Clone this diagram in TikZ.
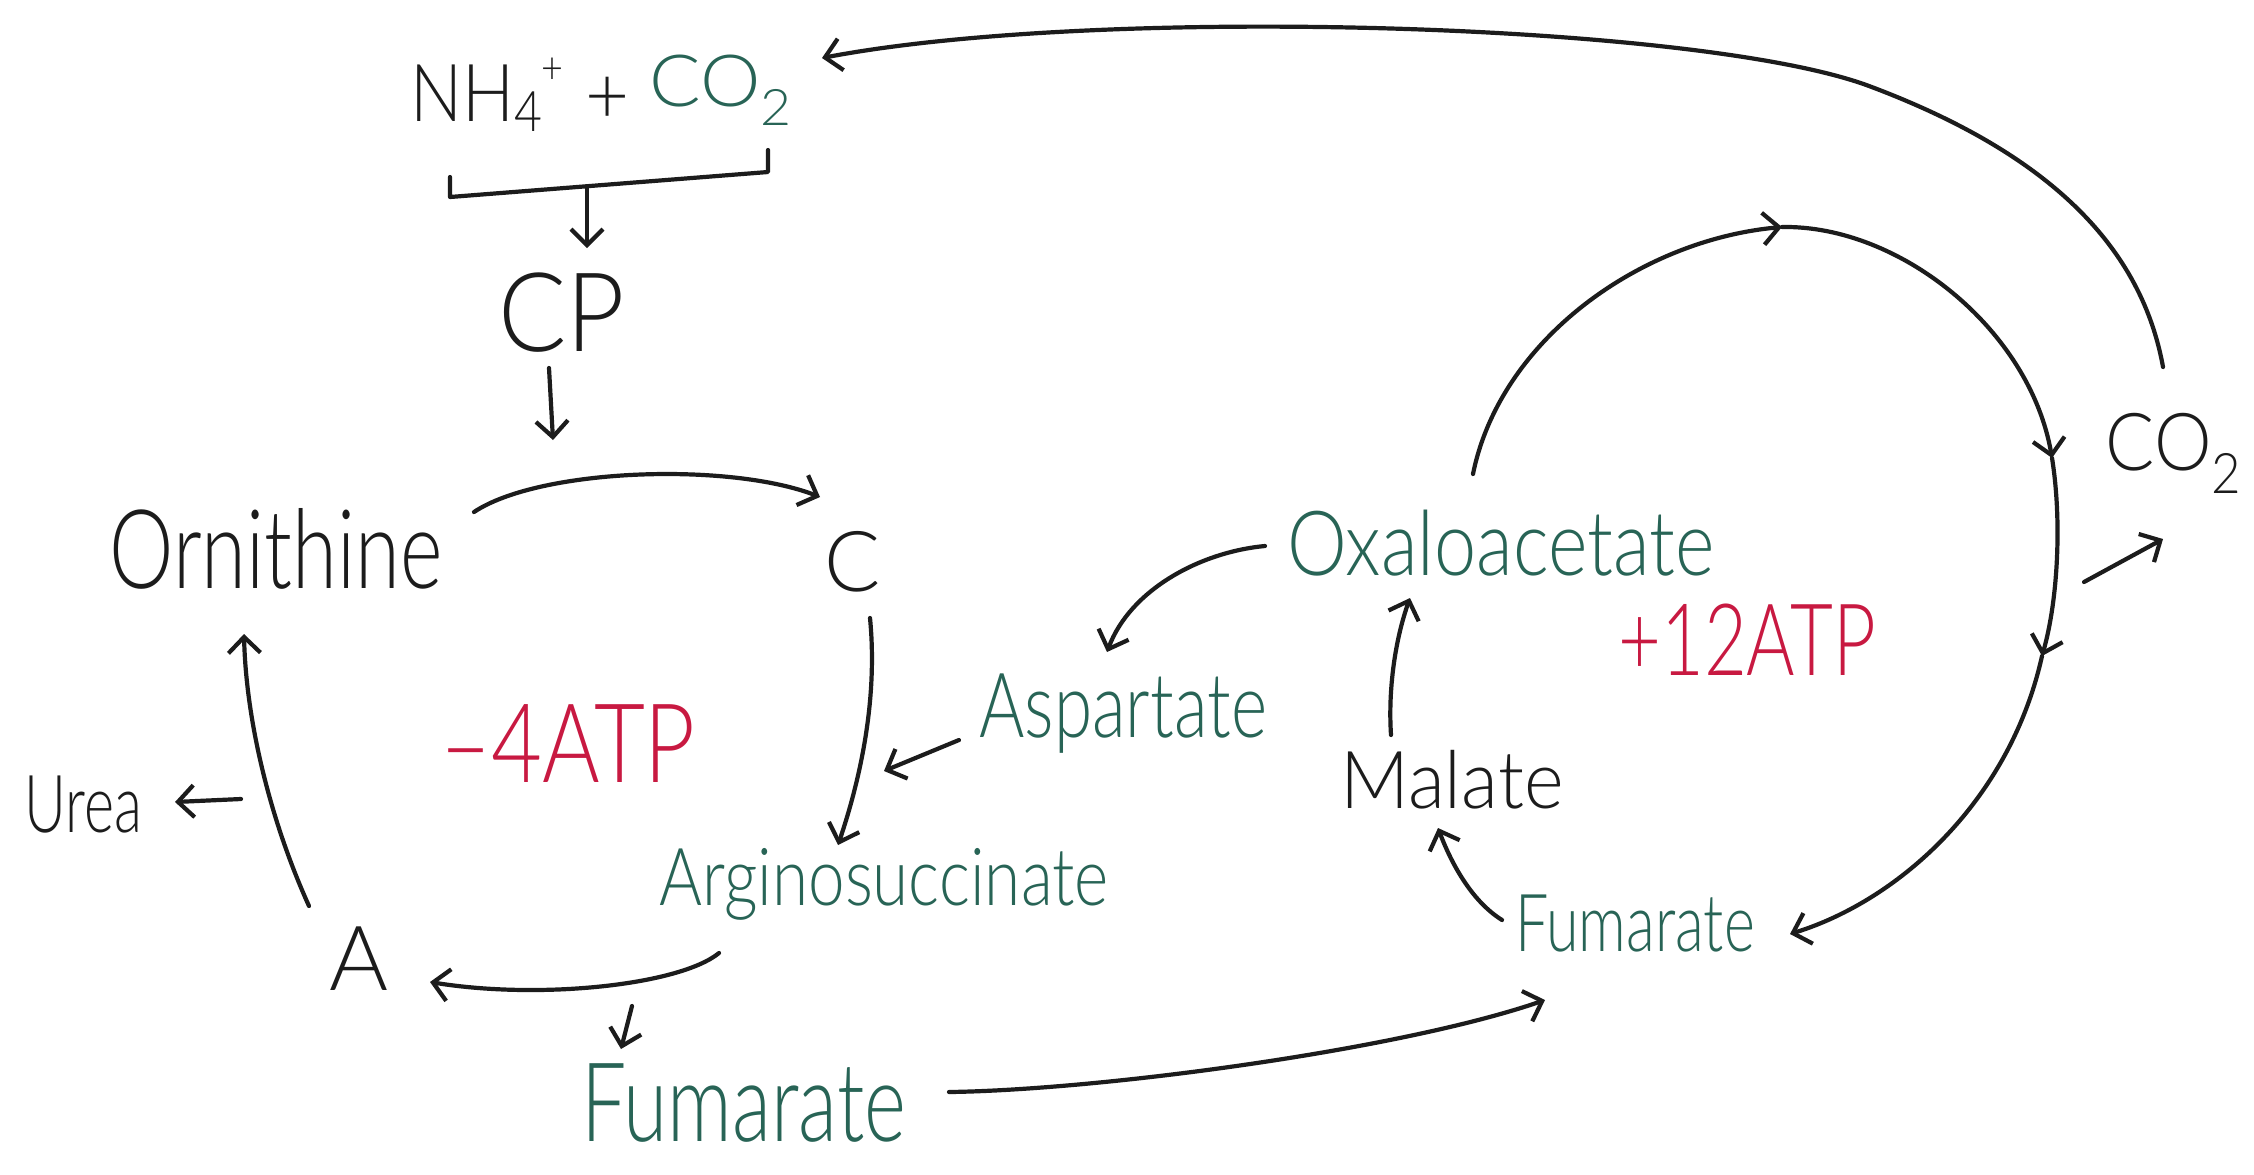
\documentclass[tikz,border=0pt]{standalone}
\usepackage{fontspec}
\usepackage{graphicx}
\setmainfont{Lato Light}
\usetikzlibrary{arrows.meta}
\definecolor{ink}{RGB}{28,28,28}
\definecolor{tealink}{RGB}{40,100,86}
\definecolor{redink}{RGB}{200,25,65}
% handwritten-looking label: [horizontal squeeze]{size}{text}
\newcommand\hw[3][0.75]{\scalebox{#1}[1]{\fontsize{#2}{#2}\selectfont #3}}
% ammonium: small 4 lowered, charge raised after it
\newcommand\ammonium{NH\raisebox{-5pt}{\fontsize{28}{28}\selectfont 4}\raisebox{19pt}{\fontsize{22}{22}\selectfont +}}

\begin{document}
\begin{tikzpicture}[x=0.5pt,y=0.5pt,
  lbl/.style={inner sep=0pt, text=ink},
  grn/.style={lbl, text=tealink},
  rd/.style={lbl, text=redink},
  conn/.style={draw=ink, line width=2.1pt, line cap=round, line join=round},
  arr/.style={conn, -{Straight Barb[length=8pt,width=16pt]}},
]
\useasboundingbox (0,0) rectangle (2254,-1174);
\fill[white] (0,0) rectangle (2254,-1174);

% ---- urea cycle side ----
\node[lbl] (nh4)  at (487,-95)  {\hw[0.86]{40}{\ammonium}};
\node[lbl] (plus) at (608,-100) {\hw[0.95]{40}{+}};
\node[grn] (co2a) at (721,-90)  {\hw[1.06]{36}{CO\textsubscript{2}}};
\node[lbl] (cp)   at (562,-313) {\hw[0.92]{55}{CP}};
\node[lbl] (orn)  at (276,-549) {\hw[0.74]{55}{Ornithine}};
\node[lbl] (cit)  at (853,-562) {\hw[0.99]{42}{C}};
\node[grn] (arg)  at (884,-884) {\hw[0.82]{40}{Arginosuccinate}};
\node[grn] (asp)  at (1123,-714){\hw[0.77]{45}{Aspartate}};
\node[rd]  (atpm) at (568,-744) {\hw[0.80]{55}{–4ATP}};
\node[lbl] (urea) at (83,-805)  {\hw[0.72]{40}{Urea}};
\node[lbl] (argn) at (359,-959) {\hw[1.0]{45}{A}};
\node[grn] (fum1) at (744,-1103){\hw[0.73]{55}{Fumarate}};

% ---- citric acid cycle side ----
\node[grn] (oaa)  at (1501,-543){\hw[0.84]{45}{Oxaloacetate}};
\node[lbl] (mal)  at (1452,-780){\hw[0.95]{40}{Malate}};
\node[grn] (fum2) at (1635,-924){\hw[0.74]{40}{Fumarate}};
\node[rd]  (atpp) at (1747,-640){\hw[0.74]{50}{+12ATP}};
\node[lbl] (co2)  at (2174,-453){\hw[0.91]{40}{CO\textsubscript{2}}};

% bracket joining the two reactants
\draw[conn] (450,-177) -- (450,-197) -- (768,-172) -- (768,-150);
\coordinate (brk) at (587,-187);
\draw[arr] (brk) -- ([shift={(25,65)}]cp.center);
\coordinate (cpdown) at (553,-440);
\draw[arr] ([shift={(-13,-55)}]cp.center) -- (cpdown);

% urea cycle arrows
\draw[arr] ([shift={(198,37)}]orn.center) .. controls (540,-468) and (730,-462) .. ([shift={(-33,65)}]cit.center);
\draw[arr] ([shift={(17,-56)}]cit.center) .. controls (878,-700) and (860,-780) .. ([shift={(-46,39)}]arg.center);
\draw[arr] ([shift={(-164,-26)}]asp.center) -- ([shift={(-239,-57)}]asp.center);
\draw[arr] ([shift={(-165,-69)}]arg.center) .. controls (680,-985) and (540,-1000) .. ([shift={(71,-23)}]argn.center);
\draw[arr] ([shift={(-252,-122)}]arg.center) -- ([shift={(-123,54)}]fum1.center);
\draw[arr] ([shift={(-50,53)}]argn.center) .. controls (270,-820) and (246,-720) .. ([shift={(-32,-85)}]orn.center);
\draw[arr] ([shift={(158,6)}]urea.center) -- ([shift={(92,3)}]urea.center);

% link between the cycles
\draw[arr] ([shift={(205,11)}]fum1.center) .. controls (1100,-1090) and (1400,-1050) .. ([shift={(-90,-76)}]fum2.center);
\draw[arr] ([shift={(-236,-3)}]oaa.center) .. controls (1200,-552) and (1130,-590) .. ([shift={(-16,62)}]asp.center);

% citric acid cycle
\draw[arr] ([shift={(-133,4)}]fum2.center) .. controls (1470,-900) and (1450,-860) .. ([shift={(-14,-48)}]mal.center);
\draw[arr] ([shift={(-61,45)}]mal.center) .. controls (1388,-690) and (1395,-640) .. ([shift={(-91,-55)}]oaa.center);
\coordinate (tcatop) at (1782,-227);
\coordinate (tcar1)  at (2052,-458);
\coordinate (tcar2)  at (2042,-656);
\draw[arr] ([shift={(-28,69)}]oaa.center) .. controls (1500,-340) and (1640,-240) .. (tcatop);
\draw[arr] (tcatop) .. controls (1900,-225) and (2030,-330) .. (tcar1);
\draw[arr] (tcar1) .. controls (2062,-520) and (2058,-600) .. (tcar2);
\draw[arr] (tcar2) .. controls (2010,-800) and (1900,-900) .. ([shift={(155,-10)}]fum2.center);
\draw[arr] ([shift={(-90,-129)}]co2.center) -- ([shift={(-11,-86)}]co2.center);

% CO2 returned to the start
\coordinate (loopbend) at (1869,-86);
\draw[arr] ([shift={(-11,86)}]co2.center) .. controls (2140,-240) and (2040,-150) .. (loopbend)
  .. controls (1700,-23) and (1100,-5) .. ([shift={(101,32)}]co2a.center);
\end{tikzpicture}
\end{document}
